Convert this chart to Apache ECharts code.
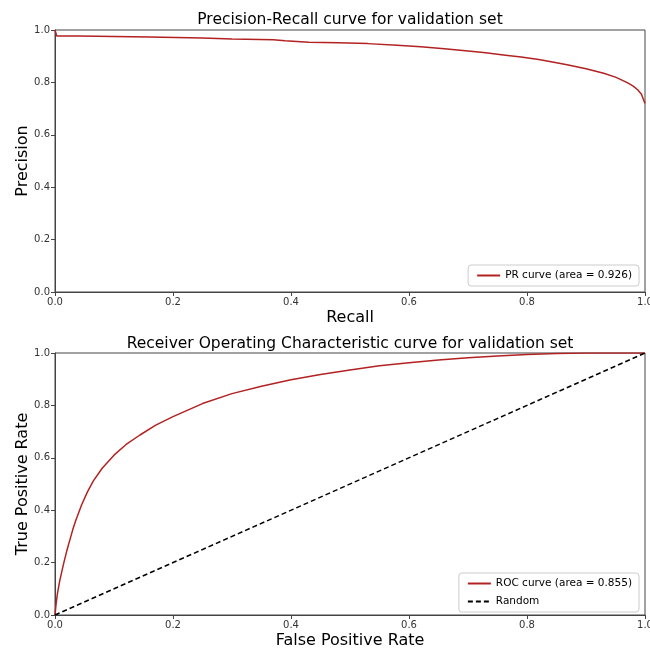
<!DOCTYPE html>
<html><head><meta charset="utf-8">
<script src="https://cdn.jsdelivr.net/npm/echarts@6/dist/echarts.min.js"></script>
<style>html,body{margin:0;padding:0;background:#fff;overflow:hidden}#c{width:650px;height:648px}</style>
</head><body><div id="c"></div>
<script>
// PR curve (recall, precision)
const prRecall = [0, 0.003, 0.04, 0.041, 0.16, 0.161, 0.25, 0.251, 0.30, 0.301, 0.37, 0.371, 0.39, 0.391, 0.43, 0.48, 0.53, 0.58, 0.62, 0.66, 0.70, 0.73, 0.76, 0.79, 0.82, 0.85, 0.87, 0.90, 0.93, 0.95, 0.97, 0.98, 0.988, 0.994, 0.997, 1.0];
const prPrecision = [1.0, 0.977, 0.977, 0.973, 0.973, 0.969, 0.969, 0.966, 0.966, 0.963, 0.963, 0.959, 0.959, 0.955, 0.953, 0.951, 0.948, 0.942, 0.936, 0.928, 0.920, 0.913, 0.905, 0.897, 0.887, 0.875, 0.866, 0.852, 0.835, 0.820, 0.799, 0.786, 0.771, 0.755, 0.737, 0.72];
// ROC curve
const rocFpr = [0, 0.002, 0.004, 0.006, 0.008, 0.01, 0.015, 0.02, 0.025, 0.03, 0.035, 0.045, 0.055, 0.065, 0.08, 0.1, 0.12, 0.144, 0.17, 0.2, 0.25, 0.3, 0.35, 0.4, 0.45, 0.5, 0.55, 0.6, 0.65, 0.7, 0.75, 0.8, 0.85, 0.9, 1.0];
const rocTpr = [0, 0.045, 0.08, 0.105, 0.13, 0.15, 0.20, 0.245, 0.285, 0.325, 0.36, 0.42, 0.47, 0.512, 0.56, 0.61, 0.65, 0.687, 0.724, 0.757, 0.807, 0.845, 0.873, 0.898, 0.918, 0.935, 0.951, 0.963, 0.973, 0.982, 0.989, 0.994, 0.998, 1.0, 1.0];
const randomX = [0, 1];
const randomY = [0, 1];

const FONT = 'DejaVu Sans';
const zip = (a, b) => a.map((v, i) => [v, b[i]]);
const fmt = v => v.toFixed(1);

function axis(gridIndex, name, isX) {
  const a = {
    type: 'value', gridIndex, min: 0, max: 1, interval: 0.2,
    name, nameLocation: 'middle', nameGap: isX ? 18 : 24,
    nameTextStyle: { fontFamily: FONT, fontSize: 16, color: '#000' },
    axisLine: { show: true, lineStyle: { color: '#444', width: 1 } },
    axisTick: { show: true, inside: false, length: 4, lineStyle: { color: '#444' } },
    axisLabel: { fontFamily: FONT, fontSize: 10, color: '#333', margin: 5, formatter: fmt },
    splitLine: { show: false }
  };
  if (!isX) a.nameMoveOverlap = false;
  return a;
}

const legendBase = {
  orient: 'vertical', right: 11,
  backgroundColor: '#fff', borderColor: '#ccc', borderWidth: 1, borderRadius: 3,
  padding: [5, 7, 5, 8], itemWidth: 23, itemHeight: 10, itemGap: 7,
  itemStyle: { opacity: 0 },
  textStyle: { fontFamily: FONT, fontSize: 10.5, color: '#000' }
};

const gridBase = { left: 55, width: 590, height: 262, show: true, borderColor: '#444', borderWidth: 1,
  containLabel: false, outerBoundsMode: 'none' };

const option = {
  animation: false,
  backgroundColor: '#fff',
  title: [
    { text: 'Precision-Recall curve for validation set', left: 350, textAlign: 'center', top: 12, padding: 0,
      textStyle: { fontFamily: FONT, fontSize: 15.5, fontWeight: 'normal', color: '#000' } },
    { text: 'Receiver Operating Characteristic curve for validation set', left: 350, textAlign: 'center', top: 336, padding: 0,
      textStyle: { fontFamily: FONT, fontSize: 15.5, fontWeight: 'normal', color: '#000' } }
  ],
  grid: [
    Object.assign({}, gridBase, { top: 30 }),
    Object.assign({}, gridBase, { top: 353 })
  ],
  xAxis: [axis(0, 'Recall', true), axis(1, 'False Positive Rate', true)],
  yAxis: [axis(0, 'Precision', false), axis(1, 'True Positive Rate', false)],
  legend: [
    Object.assign({}, legendBase, { top: 265, data: ['PR curve (area = 0.926)'] }),
    Object.assign({}, legendBase, { top: 573, data: ['ROC curve (area = 0.855)', 'Random'] })
  ],
  series: [
    { name: 'PR curve (area = 0.926)', type: 'line', xAxisIndex: 0, yAxisIndex: 0,
      data: zip(prRecall, prPrecision), symbol: 'none', color: '#b22222',
      lineStyle: { color: '#b22222', width: 1.5 } },
    { name: 'ROC curve (area = 0.855)', type: 'line', xAxisIndex: 1, yAxisIndex: 1,
      data: zip(rocFpr, rocTpr), symbol: 'none', color: '#b22222',
      lineStyle: { color: '#b22222', width: 1.5 } },
    { name: 'Random', type: 'line', xAxisIndex: 1, yAxisIndex: 1,
      data: zip(randomX, randomY), symbol: 'none', color: '#000',
      lineStyle: { color: '#000', width: 1.5, type: [5, 3] } }
  ]
};
echarts.init(document.getElementById('c'), null, { renderer: 'canvas' }).setOption(option);
</script></body></html>
